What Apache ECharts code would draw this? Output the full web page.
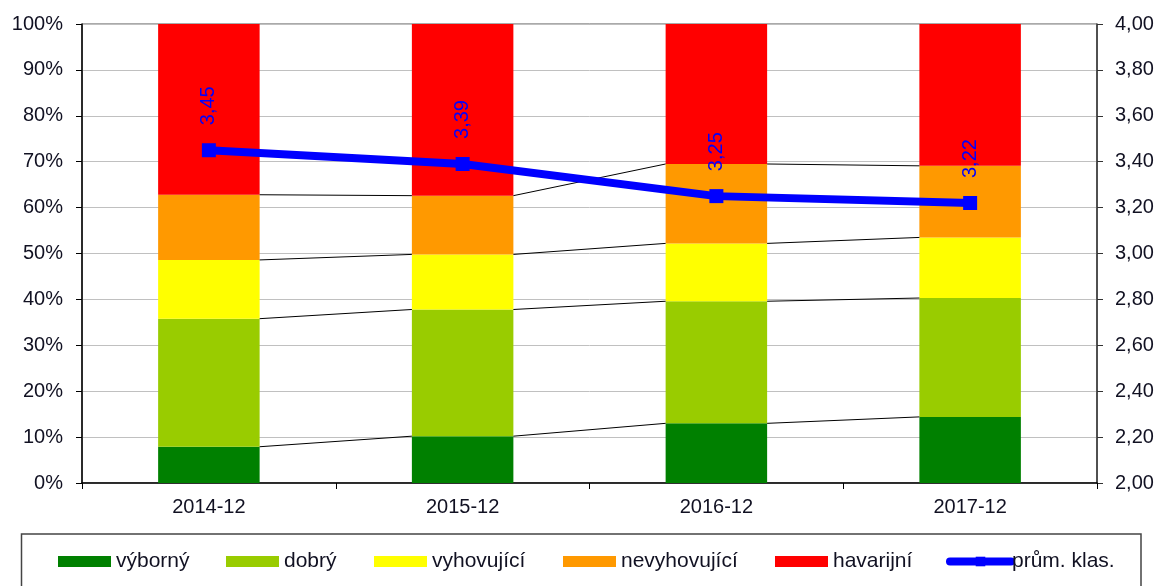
<!DOCTYPE html>
<html>
<head>
<meta charset="utf-8">
<script src="https://cdn.jsdelivr.net/npm/echarts@6/dist/echarts.min.js"></script>
<style>html,body{margin:0;padding:0;background:#fff}#c{width:1169px;height:586px}</style>
</head>
<body>
<div id="c"></div>
<script>
const categories = ['2014-12', '2015-12', '2016-12', '2017-12'];
const vyborny     = [7.9, 10.2, 13.0, 14.4];
const dobry       = [27.9, 27.6, 26.6, 25.9];
const vyhovujici  = [12.8, 12.0, 12.6, 13.2];
const nevyhovujici= [14.2, 12.8, 17.3, 15.6];
const havarijni   = [37.2, 37.4, 30.5, 30.9];
const prumKlas    = [3.45, 3.39, 3.25, 3.22];

const names = ['výborný', 'dobrý', 'vyhovující', 'nevyhovující', 'havarijní', 'prům. klas.'];
const colors = ['#008000', '#99CC00', '#FFFF00', '#FF9900', '#FF0000', '#0000FF'];
const stacks = [vyborny, dobry, vyhovujici, nevyhovujici, havarijni];

const FONT = 'Liberation Sans, Arial, sans-serif';
const TXT = '#111122';
const BAR_FR = 0.4;

// cumulative levels for Excel-like series lines
const levels = [];
for (let l = 0; l < 4; l++) {
  const cum = categories.map((_, i) => {
    let s = 0; for (let k = 0; k <= l; k++) s += stacks[k][i]; return s;
  });
  for (let i = 0; i < categories.length - 1; i++) levels.push([i, cum[i], cum[i + 1]]);
}

const series = stacks.map((d, k) => ({
  name: names[k], type: 'bar', stack: 'a', data: d, barWidth: '40%',
  itemStyle: { color: colors[k] }, z: 2
}));
series.push({
  type: 'custom', name: 'serieslines', xAxisIndex: 0, yAxisIndex: 0, z: 3,
  silent: true, data: levels,
  renderItem: function (params, api) {
    const i = api.value(0);
    const p1 = api.coord([i, api.value(1)]);
    const p2 = api.coord([i + 1, api.value(2)]);
    const half = api.size([1, 0])[0] * BAR_FR / 2;
    return { type: 'line', shape: { x1: p1[0] + half, y1: p1[1], x2: p2[0] - half, y2: p2[1] },
      style: { stroke: '#000', lineWidth: 1 } };
  }
});
series.push({
  name: names[5], type: 'line', yAxisIndex: 1, data: prumKlas, z: 5,
  symbol: 'rect', symbolSize: 14,
  lineStyle: { color: colors[5], width: 8 }, itemStyle: { color: colors[5] },
  label: { show: true, position: 'top', distance: 18, rotate: 90, align: 'left', verticalAlign: 'middle',
    color: colors[5], fontSize: 20, fontFamily: FONT,
    formatter: p => p.value.toFixed(2).replace('.', ',') }
});

const legendLefts = [58, 226, 374, 563, 775, 946];
const legends = names.map((n, k) => ({
  data: [n], left: legendLefts[k], top: 551, padding: 0,
  icon: k === 5 ? undefined : 'rect',
  itemWidth: k === 5 ? 61 : 53, itemHeight: k === 5 ? 12 : 11, itemGap: 0,
  lineStyle: k === 5 ? { width: 8, cap: 'round' } : undefined,
  textStyle: { fontSize: 21, fontFamily: FONT, color: TXT, padding: k === 5 ? [0, 0, 0, -4] : 0 },
  selectedMode: false
}));

const chart = echarts.init(document.getElementById('c'), null, { renderer: 'canvas' });
chart.setOption({
  animation: false,
  backgroundColor: '#fff',
  grid: { left: 82, right: 72, top: 24, bottom: 103, show: true, borderColor: '#555', borderWidth: 1 },
  legend: legends,
  graphic: [{ type: 'rect', shape: { x: 21.5, y: 534, width: 1119.5, height: 80 },
    style: { fill: 'none', stroke: '#444', lineWidth: 1.5 }, silent: true }],
  xAxis: {
    type: 'category', data: categories, boundaryGap: true,
    axisLine: { lineStyle: { color: '#000', width: 1.5 } },
    axisTick: { show: true, length: 6, lineStyle: { color: '#000' } },
    axisLabel: { fontSize: 20, fontFamily: FONT, color: TXT, margin: 14 },
    splitLine: { show: false }
  },
  yAxis: [{
    type: 'value', min: 0, max: 100, interval: 10, position: 'left',
    axisLine: { show: true, lineStyle: { color: '#000', width: 1.5 } },
    axisTick: { show: true, length: 6, lineStyle: { color: '#000' } },
    axisLabel: { fontSize: 20, fontFamily: FONT, color: TXT, margin: 19, formatter: '{value}%' },
    splitLine: { show: true, lineStyle: { color: '#c0c0c0', width: 1 } }
  }, {
    type: 'value', min: 2, max: 4, interval: 0.2, position: 'right',
    axisLine: { show: true, lineStyle: { color: '#333', width: 1.5 } },
    axisTick: { show: true, length: 6, lineStyle: { color: '#333' } },
    axisLabel: { fontSize: 20, fontFamily: FONT, color: TXT, margin: 18,
      formatter: v => v.toFixed(2).replace('.', ',') },
    splitLine: { show: false }
  }],
  series: series
});
</script>
</body>
</html>
